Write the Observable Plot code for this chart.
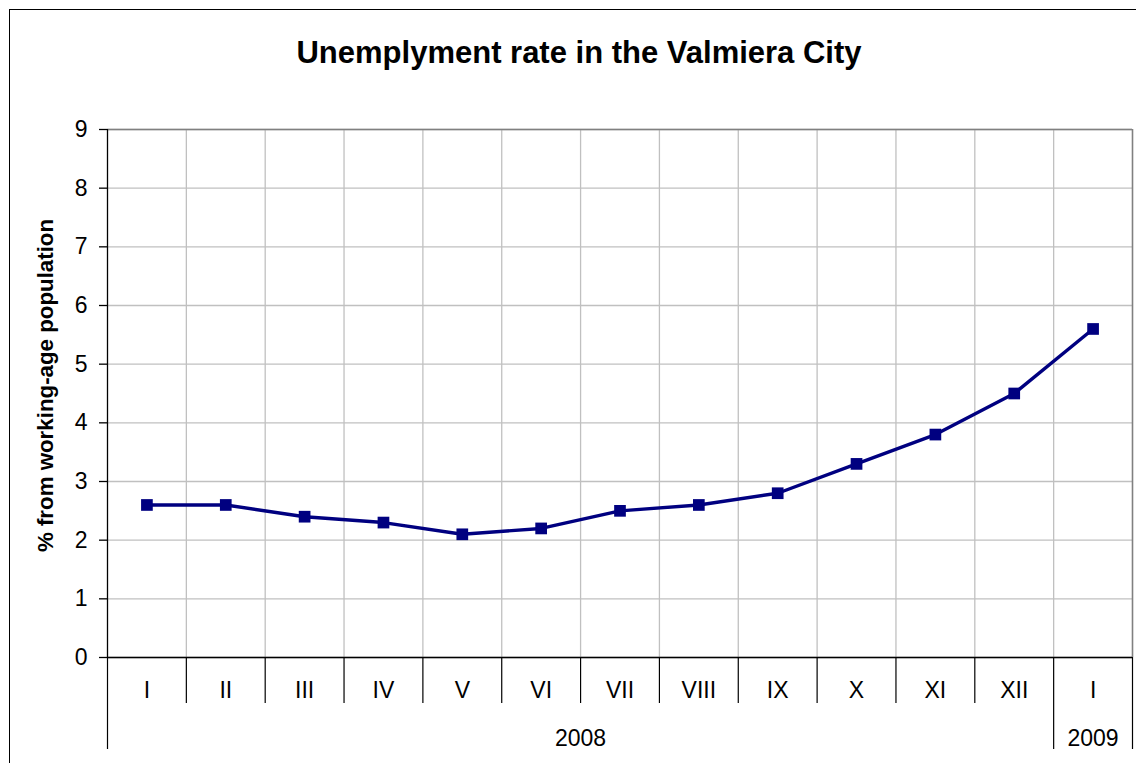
<!DOCTYPE html>
<html>
<head>
<meta charset="utf-8">
<script src="https://cdn.jsdelivr.net/npm/d3@7"></script>
<script src="https://cdn.jsdelivr.net/npm/@observablehq/plot@0.6"></script>
<style>
html, body { margin: 0; padding: 0; background: #fff; }
#wrap { position: relative; width: 1136px; height: 763px; overflow: hidden; }
#chart { position: absolute; left: 0; top: 0; }
#frame { position: absolute; left: 8.5px; top: 8.5px; width: 1300px; height: 900px;
  border-left: 1.5px solid #000; border-top: 1.5px solid #000; pointer-events: none; z-index: 2; }
</style>
</head>
<body>
<div id="wrap"><div id="chart"></div><div id="frame"></div></div>
<script>
const title = "Unemplyment rate in the Valmiera City";
const yLabel = "% from working-age population";
const months = ["I", "II", "III", "IV", "V", "VI", "VII", "VIII", "IX", "X", "XI", "XII", "I"];
const years = ["2008", "2009"];
const yearStart = [0, 12];
const yearEnd = [12, 13];
const rates = [2.6, 2.6, 2.4, 2.3, 2.1, 2.2, 2.5, 2.6, 2.8, 3.3, 3.8, 4.5, 5.6];
const yTicks = [0, 1, 2, 3, 4, 5, 6, 7, 8, 9];

const data = rates.map((v, i) => ({pos: i + 0.5, month: months[i], rate: v}));
const innerBounds = d3.range(1, months.length);            // category separators
const shortBounds = innerBounds.filter(b => !yearEnd.slice(0, -1).includes(b));
const longBounds = [0, ...yearEnd];
const yearData = years.map((y, i) => ({year: y, pos: (yearStart[i] + yearEnd[i]) / 2}));

const font = "'Liberation Sans', Arial, Helvetica, sans-serif";
const navy = "#000080";

const chart = Plot.plot({
  width: 1136,
  height: 763,
  marginLeft: 107,
  marginRight: 4,
  marginTop: 129,
  marginBottom: 106,
  style: {fontFamily: font, fontSize: "23px", color: "#000", background: "transparent", overflow: "visible"},
  x: {type: "linear", domain: [0, months.length], axis: null},
  y: {domain: [0, 9], axis: null},
  marks: [
    // gridlines
    Plot.ruleY(yTicks, {stroke: "#c0c0c0", strokeWidth: 1.3}),
    Plot.ruleX(innerBounds, {stroke: "#c0c0c0", strokeWidth: 1.3}),
    Plot.ruleY([9], {stroke: "#808080", strokeWidth: 1.6}),
    Plot.ruleX([months.length], {stroke: "#808080", strokeWidth: 1.6}),
    // axes lines
    Plot.ruleX([0], {stroke: "#000", strokeWidth: 1.3}),
    Plot.ruleY([0], {stroke: "#000", strokeWidth: 1.3}),
    Plot.axisY(yTicks, {tickSize: 8, tickPadding: 12, fontSize: 23, tickFormat: d3.format("d"), label: null, strokeWidth: 1.3}),
    // category separators (two levels)
    Plot.axisX(shortBounds, {tickSize: 46, tickFormat: () => "", label: null, strokeWidth: 1.2}),
    Plot.axisX(longBounds, {tickSize: 92, tickFormat: () => "", label: null, strokeWidth: 1.2}),
    // category labels
    Plot.text(data, {x: "pos", text: "month", frameAnchor: "bottom", dy: 33, lineAnchor: "middle", fontSize: 23}),
    Plot.text(yearData, {x: "pos", text: "year", frameAnchor: "bottom", dy: 81, lineAnchor: "middle", fontSize: 23}),
    // series
    Plot.line(data, {x: "pos", y: "rate", stroke: navy, strokeWidth: 3.4}),
    Plot.dot(data, {x: "pos", y: "rate", symbol: "square", r: 6.6, fill: navy, stroke: null}),
    // titles
    Plot.text([title], {frameAnchor: "top", dx: -41, dy: -76, lineAnchor: "middle", fontSize: 31, fontWeight: "bold"}),
    Plot.text([yLabel], {frameAnchor: "left", dx: -62, dy: -8, rotate: -90, lineAnchor: "middle", textAnchor: "middle", fontSize: 22.3, fontWeight: "bold"})
  ]
});
document.getElementById("chart").appendChild(chart);
</script>
</body>
</html>
